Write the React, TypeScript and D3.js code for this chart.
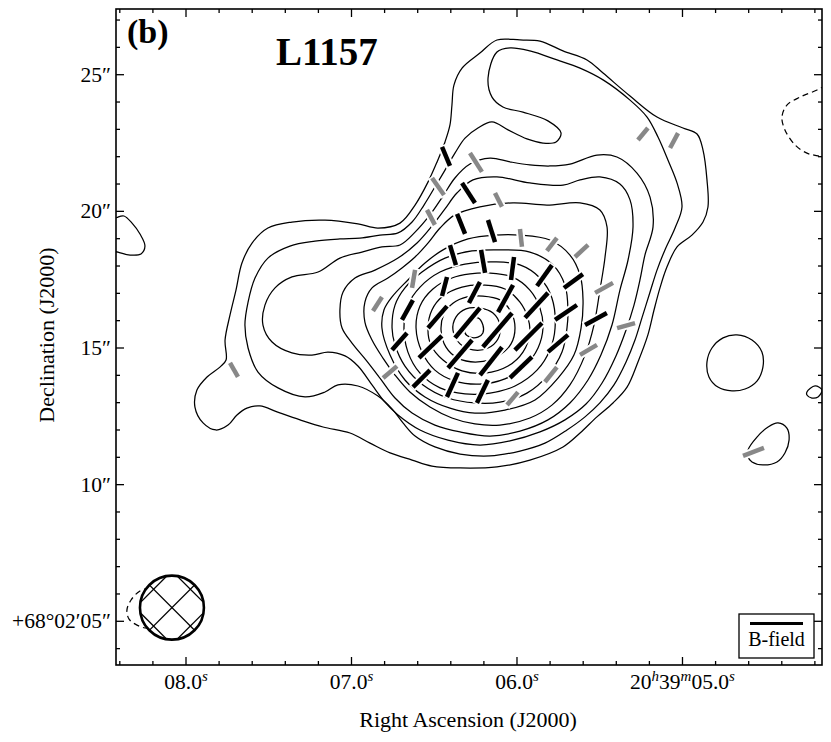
import * as d3 from "d3";
import React from "react";

// RA in seconds of 20h39m, Dec in arcsec of +68°02'
const raTicks = [8, 7, 6, 5];
const raTickLabels = [["08.0", "s"], ["07.0", "s"], ["06.0", "s"], ["20", "h", "39", "m", "05.0", "s"]];
const decTicks = [5, 10, 15, 20, 25];
const decTickLabels = ["+68°02′05″", "10″", "15″", "20″", "25″"];

// Stokes I contours, outermost to innermost: [ra (s), dec (")]
const contour01 = [[6.121,26.27],[5.982,26.27],[5.861,26.23],[5.722,25.87],[5.577,25.54],[5.48,25.06],[5.317,24.22],[5.154,23.45],[4.997,23.05],[4.912,22.83],[4.876,22.24],[4.852,21.15],[4.846,20.16],[4.876,19.61],[4.943,19.13],[5.033,18.7],[5.094,17.96],[5.136,17.2],[5.172,16.39],[5.209,15.48],[5.269,14.49],[5.335,13.57],[5.42,12.99],[5.517,12.48],[5.619,11.89],[5.722,11.38],[5.922,10.9],[6.121,10.65],[6.344,10.61],[6.514,10.68],[6.634,10.9],[6.767,11.16],[6.888,11.52],[7.009,11.89],[7.172,12.11],[7.311,12.37],[7.45,12.66],[7.553,12.88],[7.632,12.8],[7.692,12.55],[7.746,12.18],[7.819,12.0],[7.897,12.26],[7.946,12.84],[7.934,13.46],[7.873,13.94],[7.795,14.3],[7.758,14.56],[7.764,15.29],[7.734,16.21],[7.698,17.12],[7.662,18.11],[7.601,18.84],[7.505,19.39],[7.36,19.61],[7.16,19.68],[6.961,19.54],[6.84,19.39],[6.707,19.57],[6.616,20.23],[6.538,21.07],[6.483,21.81],[6.435,22.54],[6.405,23.16],[6.393,23.89],[6.381,24.62],[6.332,25.24],[6.224,25.79]];
const contour02 = [[6.121,25.83],[6.042,25.98],[5.922,25.87],[5.758,25.54],[5.619,25.24],[5.48,24.81],[5.317,24.07],[5.214,23.45],[5.148,22.72],[5.088,21.88],[5.033,21.04],[5.003,20.16],[5.045,19.39],[5.106,18.59],[5.154,17.85],[5.196,17.05],[5.245,16.1],[5.287,15.29],[5.341,14.49],[5.414,13.65],[5.499,12.99],[5.589,12.48],[5.698,12.0],[5.831,11.52],[5.982,11.23],[6.163,11.05],[6.344,11.12],[6.496,11.38],[6.616,11.78],[6.689,12.26],[6.755,12.77],[6.84,13.24],[6.961,13.61],[7.082,13.65],[7.16,13.39],[7.281,13.21],[7.444,13.54],[7.565,14.12],[7.625,15.0],[7.644,15.84],[7.625,16.68],[7.583,17.56],[7.505,18.29],[7.372,18.73],[7.221,18.91],[7.07,18.99],[6.949,19.02],[6.828,19.13],[6.719,19.21],[6.634,19.61],[6.562,20.23],[6.496,20.89],[6.435,21.51],[6.375,22.13],[6.314,22.68],[6.236,23.05],[6.151,23.27],[6.054,22.98],[5.94,22.65],[5.843,22.5],[5.764,22.54],[5.734,22.87],[5.813,23.31],[5.964,23.63],[6.085,23.82],[6.151,24.18],[6.175,24.88]];
const contour03 = [[6.163,21.95],[6.042,21.81],[5.922,21.7],[5.801,21.66],[5.68,21.73],[5.517,22.06],[5.396,21.99],[5.275,21.4],[5.196,20.52],[5.178,19.43],[5.227,18.4],[5.257,17.49],[5.293,16.57],[5.341,15.66],[5.402,14.71],[5.486,13.72],[5.583,12.95],[5.71,12.37],[5.861,11.93],[6.042,11.6],[6.224,11.45],[6.417,11.63],[6.586,12.0],[6.719,12.55],[6.798,13.02],[6.876,13.65],[6.961,14.34],[7.039,14.71],[7.142,14.85],[7.239,14.74],[7.36,14.82],[7.48,15.22],[7.535,15.84],[7.523,16.57],[7.462,17.2],[7.36,17.6],[7.202,17.78],[7.07,18.29],[6.937,18.51],[6.816,18.7],[6.707,18.77],[6.616,19.24],[6.526,19.87],[6.447,20.56],[6.375,21.22],[6.284,21.73]];
const contour04 = [[6.266,21.15],[6.121,21.26],[5.922,21.04],[5.722,20.96],[5.619,21.15],[5.499,21.26],[5.378,21.0],[5.317,20.42],[5.299,19.43],[5.329,18.22],[5.378,17.12],[5.426,15.84],[5.493,14.74],[5.571,13.83],[5.68,12.99],[5.813,12.37],[5.982,11.96],[6.163,11.78],[6.344,11.93],[6.496,12.18],[6.634,12.62],[6.737,13.17],[6.828,13.9],[6.912,14.56],[6.997,15.18],[7.057,15.73],[7.07,16.39],[7.051,17.05],[6.979,17.56],[6.858,17.85],[6.719,18.29],[6.604,18.84],[6.514,19.46],[6.435,20.09],[6.363,20.67]];
const contour05 = [[6.224,20.16],[6.024,20.31],[5.819,20.23],[5.619,20.31],[5.499,20.05],[5.456,19.43],[5.468,18.33],[5.499,17.12],[5.535,15.84],[5.589,14.74],[5.68,13.65],[5.789,12.91],[5.922,12.44],[6.103,12.18],[6.254,12.22],[6.393,12.44],[6.526,12.84],[6.647,13.39],[6.737,14.01],[6.81,14.63],[6.876,15.29],[6.919,15.95],[6.919,16.68],[6.876,17.2],[6.78,17.56],[6.695,17.93],[6.616,18.33],[6.538,18.84],[6.465,19.39],[6.375,19.87]];
const contour06 = [[6.133,19.13],[5.982,19.13],[5.801,18.95],[5.68,18.4],[5.619,17.67],[5.601,16.76],[5.613,15.73],[5.656,14.74],[5.752,13.9],[5.891,13.1],[6.073,12.73],[6.254,12.62],[6.405,12.8],[6.556,13.21],[6.677,13.83],[6.767,14.74],[6.816,15.73],[6.804,16.39],[6.755,16.87],[6.659,17.49],[6.556,18.11],[6.447,18.59],[6.296,18.99]];
const contour07 = [[6.103,18.59],[5.922,18.51],[5.783,18.04],[5.71,17.3],[5.692,16.39],[5.698,15.73],[5.728,14.85],[5.813,14.01],[5.94,13.35],[6.103,13.02],[6.254,12.99],[6.417,13.17],[6.568,13.65],[6.677,14.34],[6.737,15.11],[6.755,15.73],[6.737,16.57],[6.677,17.2],[6.574,17.78],[6.435,18.29],[6.272,18.55]];
const contour08 = [[6.133,18.15],[5.982,18.04],[5.861,17.56],[5.789,16.83],[5.77,15.73],[5.801,14.93],[5.879,14.19],[6.012,13.61],[6.163,13.35],[6.314,13.32],[6.465,13.54],[6.586,14.08],[6.659,14.85],[6.683,15.73],[6.659,16.57],[6.586,17.23],[6.465,17.78],[6.314,18.07]];
const contour09 = [[6.163,17.74],[6.03,17.6],[5.922,17.12],[5.861,16.46],[5.843,15.73],[5.873,15.0],[5.952,14.34],[6.073,13.87],[6.224,13.68],[6.375,13.79],[6.496,14.19],[6.574,14.85],[6.61,15.73],[6.586,16.54],[6.508,17.16],[6.393,17.56],[6.284,17.71]];
const contour10 = [[6.193,17.3],[6.073,17.16],[5.982,16.68],[5.934,16.1],[5.922,15.55],[5.964,14.85],[6.054,14.34],[6.193,14.08],[6.332,14.16],[6.447,14.56],[6.52,15.11],[6.538,15.73],[6.514,16.39],[6.447,16.9],[6.332,17.23]];
const contour11 = [[6.206,16.9],[6.103,16.76],[6.036,16.32],[6.012,15.73],[6.036,15.15],[6.115,14.71],[6.236,14.49],[6.357,14.63],[6.429,15.03],[6.459,15.66],[6.441,16.24],[6.387,16.64],[6.302,16.87]];
const contour12 = [[6.224,16.46],[6.145,16.28],[6.103,15.84],[6.115,15.33],[6.175,15.0],[6.266,14.93],[6.344,15.15],[6.387,15.66],[6.369,16.13],[6.308,16.43]];
const contour13 = [[6.272,16.06],[6.236,16.1],[6.206,15.84],[6.206,15.55],[6.236,15.4],[6.284,15.4],[6.314,15.55],[6.302,15.91]];
const blobEast = [[4.671,15.48],[4.58,15.29],[4.52,14.85],[4.514,14.3],[4.55,13.79],[4.622,13.5],[4.701,13.43],[4.786,13.57],[4.84,13.94],[4.852,14.49],[4.822,15.0],[4.755,15.37]];
const blobEdge = [[4.248,13.39],[4.199,13.61],[4.157,13.46],[4.181,13.21],[4.218,13.17],[4.248,13.28]];
const blobSouthEast = [[4.604,11.27],[4.55,11.74],[4.483,12.11],[4.423,12.26],[4.369,12.07],[4.356,11.63],[4.381,11.16],[4.429,10.83],[4.514,10.72],[4.58,10.83],[4.604,11.01]];
const blobWest = [[8.459,19.61],[8.411,19.79],[8.375,19.83],[8.326,19.57],[8.278,19.17],[8.248,18.73],[8.272,18.44],[8.338,18.4],[8.411,18.51],[8.459,18.59]];
// negative contours (open arcs, rest lies outside the map or under the beam)
const negNorthEast = [[4.079,24.81],[4.187,24.44],[4.29,24.18],[4.369,23.89],[4.399,23.45],[4.381,22.98],[4.32,22.43],[4.248,22.13],[4.181,22.03],[4.079,21.88]];
const negSouthWest = [[8.218,6.22],[8.278,6.11],[8.332,5.78],[8.357,5.41],[8.344,5.08],[8.296,4.86],[8.236,4.75],[8.157,4.86]];

// B-field segments: [ra (s), dec ("), position angle (deg E of N), length (")]
const bFieldStrong = [[6.429,22.01,22.8,0.75],[6.293,20.67,33.0,0.87],[6.338,19.54,21.8,0.79],[6.154,19.28,17.6,0.85],[6.387,18.4,16.7,0.76],[6.205,18.17,9.9,0.85],[6.027,17.91,172.6,0.85],[5.834,17.65,144.5,0.94],[5.659,17.45,126.4,0.86],[6.438,17.25,165.3,0.72],[6.257,17.03,152.4,0.87],[6.069,16.81,151.0,1.13],[5.882,16.56,137.4,1.24],[5.704,16.3,124.3,0.97],[5.523,16.06,118.6,0.91],[6.662,16.39,151.2,0.83],[6.48,16.13,139.2,1.06],[6.299,15.92,140.2,1.43],[6.118,15.66,139.5,1.64],[5.931,15.42,135.0,1.4],[5.752,15.17,130.4,0.96],[6.71,15.24,138.6,0.83],[6.523,15.04,133.7,1.16],[6.344,14.78,139.4,1.35],[6.157,14.52,141.8,1.3],[5.976,14.29,133.7,1.11],[6.577,13.88,135.0,0.88],[6.39,13.65,155.4,0.97],[6.209,13.41,154.4,0.93]];
const bFieldWeak = [[6.248,21.79,32.3,0.82],[6.477,20.91,35.2,0.76],[6.112,20.42,26.6,0.57],[6.52,19.78,28.0,0.62],[5.976,19.03,6.3,0.66],[5.789,18.79,142.4,0.6],[5.61,18.55,132.7,0.65],[5.239,22.83,140.2,0.57],[5.051,22.59,152.0,0.62],[6.625,17.53,170.5,0.67],[6.843,16.61,147.3,0.61],[7.71,14.2,29.7,0.59],[6.767,14.12,130.6,0.67],[5.474,17.2,119.1,0.75],[5.341,15.82,105.5,0.68],[5.568,14.93,120.5,0.72],[5.795,14.03,141.3,0.7],[6.027,13.15,139.8,0.62],[4.571,11.2,110.9,0.82]];

// synthesized beam: [ra, dec, major ("), minor ("), pa]
const beam = [8.085, 5.5, 2.34, 2.34, 0];

const W = 831;
const H = 742;
const serif = "'Liberation Serif', 'DejaVu Serif', serif";

export default function App() {
  const x = d3.scaleLinear([8.423, 4.157], [116, 822]);
  const y = d3.scaleLinear([3.401, 27.404], [665, 9]);
  const pxArc = y(0) - y(1);
  const [x0, x1] = x.range();
  const [y0, y1] = [y.range()[1], y.range()[0]];

  const closed = d3
    .line<number[]>()
    .x((d) => x(d[0]))
    .y((d) => y(d[1]))
    .curve(d3.curveCatmullRomClosed.alpha(0.5));
  const open = d3
    .line<number[]>()
    .x((d) => x(d[0]))
    .y((d) => y(d[1]))
    .curve(d3.curveCatmullRom.alpha(0.5));

  const contours = [
    contour01, contour02, contour03, contour04, contour05, contour06, contour07,
    contour08, contour09, contour10, contour11, contour12, contour13,
    blobEast, blobEdge, blobSouthEast, blobWest,
  ];

  const seg = (v: number[], extra = 0) => {
    const [ra, dec, pa, len] = v;
    const h = (len * pxArc) / 2 + extra;
    const t = (pa * Math.PI) / 180;
    const cx = x(ra);
    const cy = y(dec);
    const dx = -Math.sin(t) * h;
    const dy = -Math.cos(t) * h;
    return { x1: cx - dx, y1: cy - dy, x2: cx + dx, y2: cy + dy };
  };

  const raMinor = x.ticks(20);
  const decMinor = y.ticks(25);
  const isRaMajor = (t: number) => Math.abs(t - Math.round(t)) < 1e-6;
  const isDecMajor = (t: number) => Math.abs(t / 5 - Math.round(t / 5)) < 1e-6;

  const bx = x(beam[0]);
  const by = y(beam[1]);
  const br = (beam[2] / 2) * pxArc;
  const hatch = [-26, 0, 26];

  return (
    <svg
      width={W}
      height={H}
      style={{ position: "absolute", left: 0, top: 0, background: "#fff" }}
      fontFamily={serif}
    >
      <defs>
        <clipPath id="plotArea">
          <rect x={x0} y={y0} width={x1 - x0} height={y1 - y0} />
        </clipPath>
        <clipPath id="beamClip">
          <circle cx={bx} cy={by} r={br} />
        </clipPath>
      </defs>
      <rect width={W} height={H} fill="#fff" />

      <g clipPath="url(#plotArea)" fill="none" stroke="#000">
        {contours.map((c, i) => (
          <path key={i} d={closed(c) ?? undefined} strokeWidth={1.25} />
        ))}
        <path d={open(negNorthEast) ?? undefined} strokeWidth={1.25} strokeDasharray="6,4" />
        <path d={open(negSouthWest) ?? undefined} strokeWidth={1.25} strokeDasharray="6,4" />

        {/* white halos so contours break around the segments */}
        {[...bFieldStrong, ...bFieldWeak].map((v, i) => {
          const s = seg(v, 1.5);
          return <line key={"h" + i} {...s} stroke="#fff" strokeWidth={8.5} />;
        })}
        {bFieldWeak.map((v, i) => (
          <line key={"w" + i} {...seg(v)} stroke="#888" strokeWidth={4.5} />
        ))}
        {bFieldStrong.map((v, i) => (
          <line key={"s" + i} {...seg(v)} stroke="#000" strokeWidth={4.5} />
        ))}

        {/* beam */}
        <circle cx={bx} cy={by} r={br} fill="#fff" stroke="none" />
        <g clipPath="url(#beamClip)" strokeWidth={1.3}>
          {hatch.map((o) => (
            <line key={"a" + o} x1={bx - 50 + o * Math.SQRT2} y1={by - 50} x2={bx + 50 + o * Math.SQRT2} y2={by + 50} />
          ))}
          {hatch.map((o) => (
            <line key={"b" + o} x1={bx + 50 + o * Math.SQRT2} y1={by - 50} x2={bx - 50 + o * Math.SQRT2} y2={by + 50} />
          ))}
        </g>
        <circle cx={bx} cy={by} r={br} fill="none" strokeWidth={2.6} />
      </g>

      {/* ticks on all four sides */}
      <g stroke="#000" strokeWidth={1.3}>
        {raMinor.map((t) => {
          const len = isRaMajor(t) ? 8 : 4;
          return (
            <g key={"rx" + t}>
              <line x1={x(t)} x2={x(t)} y1={y1} y2={y1 - len} />
              <line x1={x(t)} x2={x(t)} y1={y0} y2={y0 + len} />
            </g>
          );
        })}
        {decMinor.map((t) => {
          const len = isDecMajor(t) ? 8 : 4;
          return (
            <g key={"dy" + t}>
              <line x1={x0} x2={x0 + len} y1={y(t)} y2={y(t)} />
              <line x1={x1} x2={x1 - len} y1={y(t)} y2={y(t)} />
            </g>
          );
        })}
      </g>
      <rect x={x0} y={y0} width={x1 - x0} height={y1 - y0} fill="none" stroke="#000" strokeWidth={1.6} />

      {/* tick labels */}
      <g fontSize={21.5} fill="#000">
        {raTicks.map((t, i) => (
          <text key={"rl" + t} x={x(t)} y={689} textAnchor="middle">
            {raTickLabels[i].map((p, j) =>
              j % 2 === 1 ? (
                <tspan key={j} fontStyle="italic" fontSize={15} baselineShift="super">
                  {p}
                </tspan>
              ) : (
                <tspan key={j}>{p}</tspan>
              )
            )}
          </text>
        ))}
        {decTicks.map((t, i) => (
          <text key={"dl" + t} x={111} y={y(t) + 7} textAnchor="end">
            {decTickLabels[i]}
          </text>
        ))}
      </g>

      <text x={468} y={727} textAnchor="middle" fontSize={22}>
        Right Ascension (J2000)
      </text>
      <text transform={`translate(54,335) rotate(-90)`} textAnchor="middle" fontSize={22}>
        Declination (J2000)
      </text>

      <text x={127} y={43} fontSize={34} fontWeight="bold">(b)</text>
      <text x={276} y={65} fontSize={39} fontWeight="bold">L1157</text>

      {/* legend */}
      <rect x={739} y={614} width={75} height={44} fill="#fff" stroke="#000" strokeWidth={1.3} />
      <line x1={750} x2={803} y1={623.5} y2={623.5} stroke="#000" strokeWidth={3} />
      <text x={776.5} y={646} textAnchor="middle" fontSize={20}>B-field</text>
    </svg>
  );
}
